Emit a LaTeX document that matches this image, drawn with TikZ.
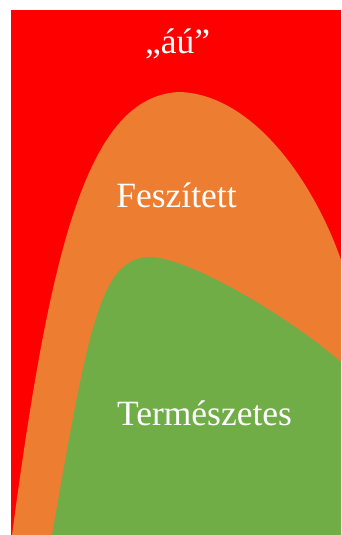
\documentclass[tikz,border=0pt]{standalone}
\usepackage{fontspec}
\setmainfont{Liberation Serif}
\definecolor{bgred}{HTML}{FF0000}
\definecolor{midorange}{HTML}{ED7D31}
\definecolor{lowgreen}{HTML}{70AD47}
\begin{document}
\begin{tikzpicture}[x=1pt,y=-1pt,
  lbl/.style={anchor=base,text=white,inner sep=0pt,font=\fontsize{35.5}{40}\selectfont}]
\useasboundingbox (0,0) rectangle (341,535);
\fill[white] (0,0) rectangle (341,535);
\fill[bgred] (11,10.5) rectangle (341,535);
\begin{scope}
\clip (11,10.5) rectangle (341,535);
\fill[midorange] (12,535) .. controls (50,250) and (87,95) .. (180,92)
  .. controls (255,95) and (315,185) .. (341,260) -- (350,280) -- (350,540) -- (12,540) -- cycle;
\fill[lowgreen] (52,535) .. controls (88,330) and (100,257) .. (150,257)
  .. controls (185,257) and (280,310) .. (341,362) -- (350,370) -- (350,540) -- (52,540) -- cycle;
\end{scope}
\node[lbl] (top) at (177.7,53) {„áú”};
\node[lbl] (mid) at (176.5,207) {Feszített};
\node[lbl] (low) at (204.5,425) {Természetes};
\end{tikzpicture}
\end{document}
